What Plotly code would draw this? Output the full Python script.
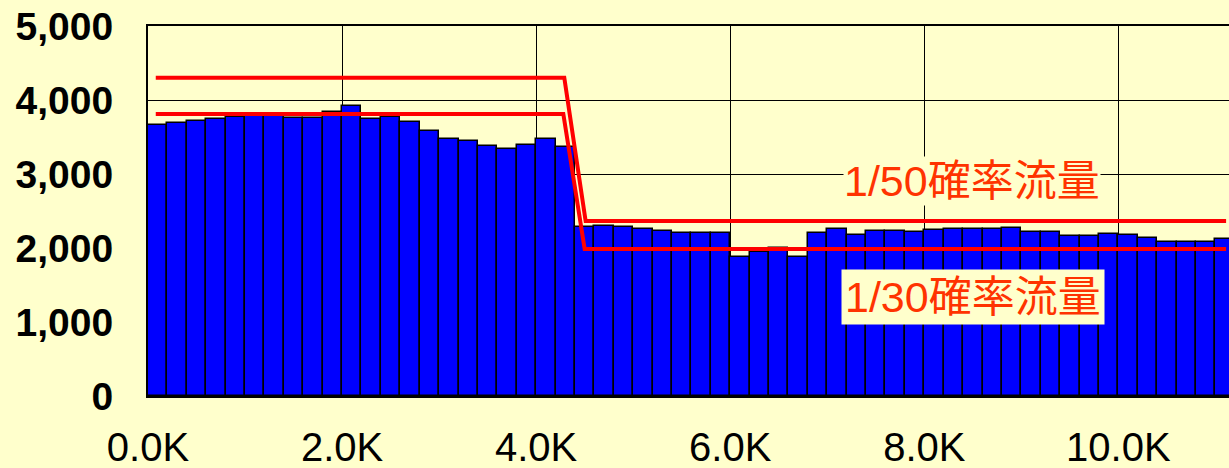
import plotly.graph_objects as go

# bar data: flow at each 200 distance bin
bin_x = [100 + 200 * i for i in range(56)]
flow = [3662, 3685, 3716, 3739, 3770, 3784, 3784, 3752, 3752, 3842,
        3919, 3739, 3770, 3703, 3577, 3468, 3450, 3378, 3342, 3392,
        3468, 3360, 2279, 2297, 2279, 2257, 2225, 2207, 2207, 2207,
        1874, 1950, 2004, 1874, 2207, 2252, 2171, 2234, 2234, 2221,
        2239, 2252, 2252, 2252, 2275, 2221, 2221, 2166, 2166, 2185,
        2171, 2131, 2077, 2077, 2077, 2117]

# design flow lines
p50_x = [80, 4290, 4510, 11110]
p50_y = [4300, 4300, 2365, 2365]
p30_x = [80, 4280, 4500, 11110]
p30_y = [3810, 3810, 1985, 1985]

xtick_vals = [0, 2000, 4000, 6000, 8000, 10000]
xtick_text = ["0.0K", "2.0K", "4.0K", "6.0K", "8.0K", "10.0K"]
ytick_vals = [0, 1000, 2000, 3000, 4000, 5000]
ytick_text = ["0", "1,000", "2,000", "3,000", "4,000", "5,000"]

bg = "#FFFFCC"
txtcol = "#FF3300"
fnt = "Liberation Sans, Arial, Noto Sans CJK JP"

fig = go.Figure()
fig.add_trace(go.Bar(x=bin_x, y=flow, width=200,
                     marker=dict(color="#0000FF", line=dict(color="black", width=1.5))))
fig.add_trace(go.Scatter(x=p50_x, y=p50_y, mode="lines", line=dict(color="#FF0000", width=4)))
fig.add_trace(go.Scatter(x=p30_x, y=p30_y, mode="lines", line=dict(color="#FF0000", width=4)))

fig.add_annotation(x=8490, y=2905, text="1/50確率流量", showarrow=False,
                   font=dict(family=fnt, size=43, color=txtcol), bgcolor=bg, borderpad=0)
fig.add_annotation(x=8500, y=1338, text="1/30確率流量", showarrow=False,
                   font=dict(family=fnt, size=43, color=txtcol), bgcolor=bg, borderpad=3)

fig.update_layout(
    width=1229, height=468,
    margin=dict(l=148, r=0, t=26, b=72),
    paper_bgcolor=bg, plot_bgcolor=bg,
    showlegend=False, bargap=0,
    xaxis=dict(range=[0, 11140], tickvals=xtick_vals, ticktext=xtick_text,
               showgrid=True, gridcolor="black", gridwidth=1,
               showline=True, linecolor="black", linewidth=2, mirror=True,
               ticks="", ticklabelstandoff=15, automargin=False,
               tickfont=dict(family="Liberation Sans, Arial", size=40, color="black"),
               zeroline=False),
    yaxis=dict(range=[0, 5000], tickvals=ytick_vals, ticktext=ytick_text,
               showgrid=True, gridcolor="black", gridwidth=1,
               showline=True, linecolor="black", linewidth=2,
               ticks="", ticklabelstandoff=25, automargin=False,
               tickfont=dict(family="Liberation Sans, Arial", size=39, color="black", weight="bold"),
               zeroline=False),
)

# drop the default 8px page margin so the figure fills the window
fig.write_html("out.html", config={"displayModeBar": False},
               post_script="document.body.style.margin = '0';")
